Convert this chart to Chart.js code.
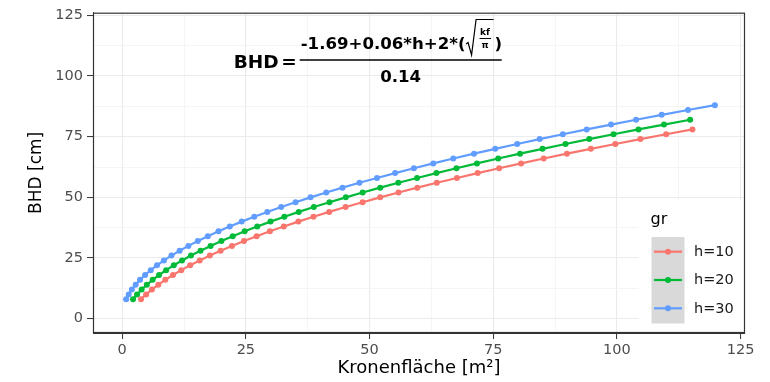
<!DOCTYPE html>
<html>
<head>
<meta charset="utf-8">
<script src="https://cdn.jsdelivr.net/npm/chart.js@4.4.0/dist/chart.umd.min.js"></script>
<style>
  html, body { margin: 0; padding: 0; background: #fff; }
  canvas { display: block; }
</style>
</head>
<body>
<canvas id="bhdChart" width="770" height="382"></canvas>
<script>
// Kronenfläche [m²] (x) and BHD [cm] (y)
const kfH10 = [3.80, 4.84, 6.01, 7.30, 8.72, 10.27, 11.94, 13.74, 15.67, 17.72, 19.89, 22.19, 24.62, 27.18, 29.86, 32.67, 35.61, 38.66, 41.85, 45.16, 48.60, 52.16, 55.85, 59.66, 63.60, 67.67, 71.86, 76.20, 80.64, 85.21, 89.91, 94.73, 99.68, 104.75, 109.96, 115.28]
const bhdH10 = [8, 10, 12, 14, 16, 18, 20, 22, 24, 26, 28, 30, 32, 34, 36, 38, 40, 42, 44, 46, 48, 50, 52, 54, 56, 58, 60, 62, 64, 66, 68, 70, 72, 74, 76, 78]

const kfH20 = [2.20, 3.00, 3.93, 4.98, 6.16, 7.46, 8.88, 10.43, 12.10, 13.91, 15.83, 17.87, 20.05, 22.34, 24.76, 27.31, 29.98, 32.78, 35.69, 38.74, 41.90, 45.20, 48.61, 52.16, 55.82, 59.61, 63.52, 67.57, 71.72, 76.02, 80.43, 84.97, 89.62, 94.42, 99.32, 104.37, 109.52, 114.81]
const bhdH20 = [8, 10, 12, 14, 16, 18, 20, 22, 24, 26, 28, 30, 32, 34, 36, 38, 40, 42, 44, 46, 48, 50, 52, 54, 56, 58, 60, 62, 64, 66, 68, 70, 72, 74, 76, 78, 80, 82]

const kfH30 = [0.80, 1.31, 1.95, 2.72, 3.61, 4.63, 5.77, 7.04, 8.43, 9.96, 11.61, 13.38, 15.29, 17.31, 19.47, 21.75, 24.16, 26.69, 29.34, 32.14, 35.05, 38.08, 41.25, 44.54, 47.96, 51.51, 55.18, 58.97, 62.88, 66.94, 71.12, 75.41, 79.85, 84.40, 89.08, 93.90, 98.82, 103.88, 109.06, 114.38, 119.81]
const bhdH30 = [8, 10, 12, 14, 16, 18, 20, 22, 24, 26, 28, 30, 32, 34, 36, 38, 40, 42, 44, 46, 48, 50, 52, 54, 56, 58, 60, 62, 64, 66, 68, 70, 72, 74, 76, 78, 80, 82, 84, 86, 88]

const groupLabels = ['h=10', 'h=20', 'h=30']
const groupColors = ['#F8766D', '#00BA38', '#619CFF']

// major + minor grid positions (labels only on majors)
const xTicks = [0, 12.5, 25, 37.5, 50, 62.5, 75, 87.5, 100, 112.5, 125]
const yTicks = [0, 12.5, 25, 37.5, 50, 62.5, 75, 87.5, 100, 112.5, 125]

const FONT = "'DejaVu Sans', sans-serif"

const toPoints = (xs, ys) => xs.map((x, i) => ({ x: x, y: ys[i] }))
const seriesData = [toPoints(kfH10, bhdH10), toPoints(kfH20, bhdH20), toPoints(kfH30, bhdH30)]

const isMajor = v => Math.abs(v % 25) < 1e-6

const gridOpts = {
  color: ctx => ctx.tick && isMajor(ctx.tick.value) ? '#ebebeb' : '#f2f2f2',
  lineWidth: ctx => ctx.tick && isMajor(ctx.tick.value) ? 1.1 : 0.8,
  tickColor: ctx => ctx.tick && isMajor(ctx.tick.value) ? '#333333' : 'rgba(0,0,0,0)',
  tickLength: 6,
  tickWidth: 1
}

// legend box, formula and panel border, drawn by hand
const decor = {
  id: 'decor',
  beforeDatasetsDraw(chart) {
    const { ctx, chartArea } = chart
    ctx.save()
    ctx.fillStyle = '#ffffff'
    ctx.fillRect(638.5, 200, chartArea.right - 638.5, chartArea.bottom - 200)
    ctx.restore()
  },
  afterDatasetsDraw(chart) {
    const { ctx } = chart
    ctx.save()

    // legend
    ctx.fillStyle = '#000'
    ctx.font = '16px ' + FONT
    ctx.textAlign = 'left'
    ctx.textBaseline = 'alphabetic'
    ctx.fillText('gr', 650.5, 224)
    ctx.fillStyle = '#d9d9d9'
    ctx.fillRect(651.5, 237, 33, 86.5)
    const rows = [251.7, 280, 308.3]
    rows.forEach((ry, i) => {
      ctx.strokeStyle = groupColors[i]
      ctx.lineWidth = 2.2
      ctx.beginPath()
      ctx.moveTo(654, ry)
      ctx.lineTo(682, ry)
      ctx.stroke()
      ctx.fillStyle = groupColors[i]
      ctx.beginPath()
      ctx.arc(668, ry, 3, 0, Math.PI * 2)
      ctx.fill()
      ctx.fillStyle = '#1a1a1a'
      ctx.font = '14.5px ' + FONT
      ctx.textBaseline = 'middle'
      ctx.fillText(groupLabels[i], 694, ry + 0.5)
    })

    // formula annotation, anchored at a data position
    const ax = chart.scales.x.getPixelForValue(56.3)
    const ay = chart.scales.y.getPixelForValue(106.6)
    ctx.fillStyle = '#000'
    ctx.strokeStyle = '#000'
    ctx.textBaseline = 'alphabetic'
    ctx.font = 'bold 18.5px ' + FONT
    ctx.fillText('BHD', ax - 167, ay + 7.5)
    ctx.fillText('=', ax - 119.5, ay + 7.5)

    ctx.lineWidth = 1.6
    ctx.beginPath()
    ctx.moveTo(ax - 101, ay)
    ctx.lineTo(ax + 101, ay)
    ctx.stroke()

    ctx.font = 'bold 16.6px ' + FONT
    const num = '-1.69+0.06*h+2*('
    const nx = ax - 100
    ctx.fillText(num, nx, ay - 11.5)
    const x1 = nx + ctx.measureText(num).width

    // radical
    ctx.lineWidth = 1.2
    ctx.beginPath()
    ctx.moveTo(x1 + 0.5, ay - 16)
    ctx.lineTo(x1 + 2.5, ay - 17.5)
    ctx.lineTo(x1 + 6, ay - 5)
    ctx.lineTo(x1 + 10.5, ay - 40.5)
    ctx.lineTo(x1 + 28, ay - 40.5)
    ctx.stroke()
    ctx.font = 'bold 9px ' + FONT
    ctx.textAlign = 'center'
    ctx.fillText('kf', x1 + 19.5, ay - 25)
    ctx.lineWidth = 1
    ctx.beginPath()
    ctx.moveTo(x1 + 14, ay - 21.5)
    ctx.lineTo(x1 + 25.5, ay - 21.5)
    ctx.stroke()
    ctx.fillText('π', x1 + 19.5, ay - 12)
    ctx.textAlign = 'left'
    ctx.font = 'bold 16.6px ' + FONT
    ctx.fillText(')', x1 + 29, ay - 11.5)

    ctx.textAlign = 'center'
    ctx.font = 'bold 16.6px ' + FONT
    ctx.fillText('0.14', ax, ay + 22)
    ctx.restore()
  },
  afterDraw(chart) {
    const { ctx, chartArea } = chart
    ctx.save()
    ctx.strokeStyle = '#333333'
    ctx.lineWidth = 1.2
    ctx.strokeRect(chartArea.left + 0.5, chartArea.top + 0.5,
      chartArea.right - chartArea.left - 1, chartArea.bottom - chartArea.top - 1)
    ctx.restore()
  }
}

new Chart(document.getElementById('bhdChart').getContext('2d'), {
  type: 'line',
  data: {
    datasets: seriesData.map((d, i) => ({
      label: groupLabels[i],
      data: d,
      borderColor: groupColors[i],
      backgroundColor: groupColors[i],
      pointBackgroundColor: groupColors[i],
      pointBorderWidth: 0,
      pointRadius: 3,
      borderWidth: 2.2,
      tension: 0,
      fill: false
    }))
  },
  options: {
    responsive: false,
    animation: false,
    devicePixelRatio: 1,
    layout: { padding: { left: 0, right: 25, top: 10, bottom: 0 } },
    plugins: { legend: { display: false }, tooltip: { enabled: false } },
    scales: {
      x: {
        type: 'linear',
        min: -5.9,
        max: 125.9,
        afterBuildTicks: s => { s.ticks = xTicks.map(v => ({ value: v })) },
        afterFit: s => { s.height = 49 },
        grid: gridOpts,
        border: { display: true, color: '#333333', width: 1 },
        ticks: {
          autoSkip: false,
          maxRotation: 0,
          padding: 3,
          color: '#4d4d4d',
          font: { family: FONT, size: 14.5 },
          callback: v => isMajor(v) ? String(v) : ''
        },
        title: {
          display: true,
          text: 'Kronenfläche [m²]',
          color: '#000',
          font: { family: FONT, size: 18 },
          padding: { top: 0, bottom: 3 }
        }
      },
      y: {
        type: 'linear',
        min: -5.9,
        max: 126.1,
        afterBuildTicks: s => { s.ticks = yTicks.map(v => ({ value: v })) },
        afterFit: s => { s.width = 93 },
        grid: gridOpts,
        border: { display: true, color: '#333333', width: 1 },
        ticks: {
          autoSkip: false,
          padding: 4,
          color: '#4d4d4d',
          font: { family: FONT, size: 14.5 },
          callback: v => isMajor(v) ? String(v) : ''
        },
        title: {
          display: true,
          text: 'BHD [cm]',
          color: '#000',
          font: { family: FONT, size: 17 },
          padding: { top: 26, bottom: 0 }
        }
      }
    }
  },
  plugins: [decor]
})
</script>
</body>
</html>
